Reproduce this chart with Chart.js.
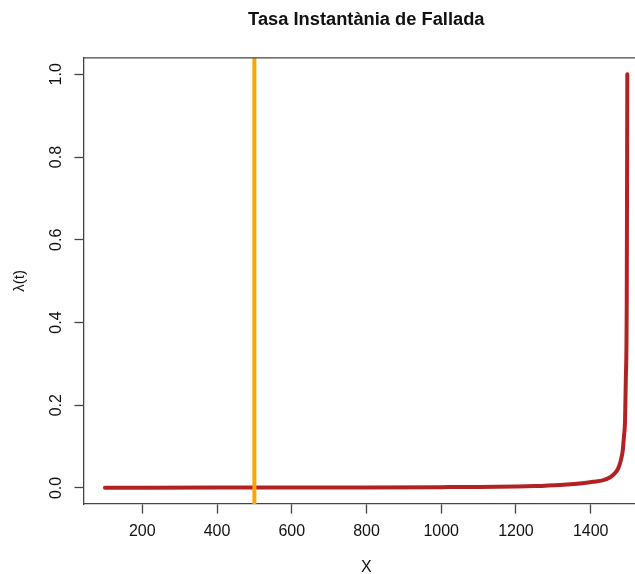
<!DOCTYPE html>
<html>
<head>
<meta charset="utf-8">
<title>Tasa Instantània de Fallada</title>
<script src="https://cdn.jsdelivr.net/npm/chart.js@4/dist/chart.umd.min.js"></script>
<style>
  html, body { margin: 0; padding: 0; background: #fff; overflow: hidden; }
  #wrap { width: 665px; height: 574px; }
</style>
</head>
<body>
<div id="wrap"><canvas id="chart" width="665" height="574"></canvas></div>
<script>
const FONT = '"Liberation Sans", Arial, Helvetica, sans-serif';

const titleText = 'Tasa Instantània de Fallada';
const xLabel = 'X';
const yLabel = 'λ(t)';

// hazard curve, t vs λ(t)
const tValues = [100, 200, 400, 600, 800, 1000, 1100, 1200, 1250, 1318, 1371, 1407, 1434, 1452, 1465, 1474, 1481, 1486, 1489, 1492, 1494, 1496.5, 1498];
const lambdaValues = [0.0007, 0.0008, 0.0009, 0.0011, 0.0014, 0.002, 0.0025, 0.0035, 0.0045, 0.0073, 0.011, 0.015, 0.019, 0.026, 0.036, 0.048, 0.068, 0.092, 0.124, 0.164, 0.26, 0.45, 1.0];

// vertical reference line
const refX = 500;

// axis ranges and ticks
const xRange = [44, 1555];
const yRange = [-0.039, 1.04];
const xStep = 200;
const yTicks = [0, 0.2, 0.4, 0.6, 0.8, 1.0];

const axisColor = '#444';

const curve = tValues.map((t, i) => ({ x: t, y: lambdaValues[i] }));
const refLine = [{ x: refX, y: yRange[0] }, { x: refX, y: yRange[1] }];

// box top/right edges, rotated y labels, main title
const extras = {
  id: 'extras',
  afterDraw(chart) {
    const { ctx, chartArea: a, scales } = chart;
    ctx.save();
    ctx.strokeStyle = axisColor;
    ctx.lineWidth = 1.3;
    ctx.beginPath();
    ctx.moveTo(a.left, a.top);
    ctx.lineTo(a.right, a.top);
    ctx.lineTo(a.right, a.bottom);
    ctx.stroke();

    ctx.fillStyle = '#111';
    ctx.font = '16px ' + FONT;
    ctx.textAlign = 'center';
    ctx.textBaseline = 'middle';
    yTicks.forEach((v) => {
      const y = scales.y.getPixelForValue(v);
      ctx.save();
      ctx.translate(57, y);
      ctx.rotate(-Math.PI / 2);
      ctx.fillText(v.toFixed(1), 0, 0);
      ctx.restore();
    });

    ctx.font = 'bold 18.3px ' + FONT;
    ctx.fillText(titleText, (a.left + a.right) / 2, 20);
    ctx.restore();
  }
};

new Chart(document.getElementById('chart'), {
  type: 'line',
  data: {
    datasets: [
      {
        data: refLine,
        borderColor: '#FFA500',
        borderWidth: 4,
        pointRadius: 0,
        borderCapStyle: 'butt'
      },
      {
        data: curve,
        borderColor: '#B22222',
        borderWidth: 4,
        pointRadius: 0,
        cubicInterpolationMode: 'monotone',
        borderCapStyle: 'round',
        borderJoinStyle: 'round'
      }
    ]
  },
  options: {
    responsive: false,
    animation: false,
    layout: { padding: { top: 57.8, right: 16.4, bottom: 0, left: 0 } },
    plugins: {
      legend: { display: false },
      tooltip: { enabled: false }
    },
    scales: {
      x: {
        type: 'linear',
        min: xRange[0],
        max: xRange[1],
        afterFit: (s) => { s.height = 69.9; },
        ticks: {
          stepSize: xStep,
          includeBounds: false,
          autoSkip: false,
          maxRotation: 0,
          padding: 8.5,
          color: '#111',
          font: { family: FONT, size: 16 },
          callback: (v) => String(v)
        },
        grid: {
          drawOnChartArea: false,
          drawTicks: true,
          tickLength: 9.5,
          tickColor: axisColor,
          tickWidth: 1.3
        },
        border: { display: true, color: axisColor, width: 1.3 },
        title: {
          display: true,
          text: xLabel,
          color: '#111',
          font: { family: FONT, size: 16, lineHeight: 0.8 },
          padding: { top: 0, bottom: 0 }
        }
      },
      y: {
        type: 'linear',
        min: yRange[0],
        max: yRange[1],
        afterFit: (s) => { s.width = 84; },
        afterBuildTicks: (s) => { s.ticks = yTicks.map((v) => ({ value: v })); },
        ticks: { display: false },
        grid: {
          drawOnChartArea: false,
          drawTicks: true,
          tickLength: 9.5,
          tickColor: axisColor,
          tickWidth: 1.3
        },
        border: { display: true, color: axisColor, width: 1.3 },
        title: {
          display: true,
          text: yLabel,
          color: '#111',
          font: { family: FONT, size: 15 },
          padding: { top: 11, bottom: 0 }
        }
      }
    }
  },
  plugins: [extras]
});
</script>
</body>
</html>
